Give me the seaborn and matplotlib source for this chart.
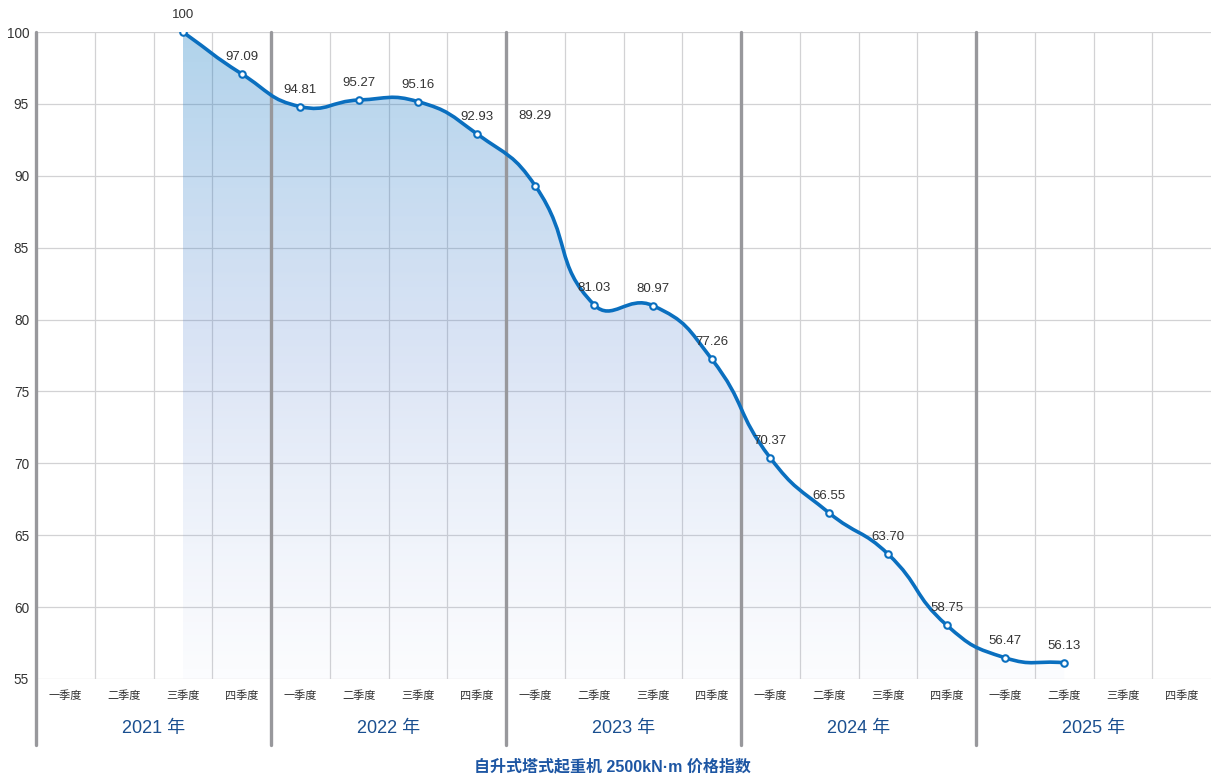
import numpy as np
import pandas as pd
import matplotlib
matplotlib.use("Agg")
import matplotlib.pyplot as plt
import seaborn as sns
from matplotlib.path import Path
from matplotlib.patches import PathPatch
from matplotlib.colors import LinearSegmentedColormap
from matplotlib.transforms import blended_transform_factory

# data
years = ['2021 年', '2022 年', '2023 年', '2024 年', '2025 年']
quarters = ['一季度', '二季度', '三季度', '四季度']
first_idx = 2  # series starts at 2021 Q3
values = [100, 97.09, 94.81, 95.27, 95.16, 92.93, 89.29, 81.03,
          80.97, 77.26, 70.37, 66.55, 63.70, 58.75, 56.47, 56.13]
labels = ['100', '97.09', '94.81', '95.27', '95.16', '92.93', '89.29', '81.03',
          '80.97', '77.26', '70.37', '66.55', '63.70', '58.75', '56.47', '56.13']
title = '自升式塔式起重机 2500kN·m 价格指数'

sns.set_style("white")
plt.rcParams['font.family'] = ['Liberation Sans', 'Noto Sans CJK SC', 'DejaVu Sans']

n_cat = len(years) * len(quarters)
xs = np.arange(first_idx, first_idx + len(values))
df = pd.DataFrame({'x': xs, 'y': values})

fig = plt.figure(figsize=(12.11, 7.75), dpi=100)
ax = fig.add_axes([36 / 1211, 1 - 679 / 775, 1 - 36 / 1211, (679 - 32) / 775])
ax.set_xlim(-0.5, n_cat - 0.5)
ax.set_ylim(55, 100)
for s in ax.spines.values():
    s.set_visible(False)

line_c = '#0a6fbf'
grid_c = '#d2d2d4'
sep_c = '#98989c'

# grid
for v in np.arange(55, 101, 5):
    ax.axhline(v, color=grid_c, lw=0.9, zorder=0)
for b in np.arange(-0.5, n_cat, 1):
    if (b + 0.5) % 4 == 0:
        continue
    ax.axvline(b, color=grid_c, lw=0.9, zorder=0)

# smooth bezier (echarts-like)
sx, sy = 58.75, 647 / 45
px = xs * sx
py = np.array(values) * sy
smooth = 0.5
n = len(px)
verts = [(xs[0], values[0])]
codes = [Path.MOVETO]
cps = []
for i in range(n):
    pxp, pyp = (px[i - 1], py[i - 1]) if i > 0 else (px[i], py[i])
    pxn, pyn = (px[i + 1], py[i + 1]) if i < n - 1 else (px[i], py[i])
    vx, vy = pxn - pxp, pyn - pyp
    d0 = np.hypot(px[i] - pxp, py[i] - pyp)
    d1 = np.hypot(pxn - px[i], pyn - py[i])
    r = d1 / (d0 + d1) if d0 + d1 > 0 else 0.5
    c_in = (px[i] - vx * smooth * (1 - r), py[i] - vy * smooth * (1 - r))
    c_out = (px[i] + vx * smooth * r, py[i] + vy * smooth * r)
    cps.append((c_in, c_out))
for i in range(n - 1):
    a = cps[i][1]
    b = cps[i + 1][0]
    verts += [(a[0] / sx, a[1] / sy), (b[0] / sx, b[1] / sy), (xs[i + 1], values[i + 1])]
    codes += [Path.CURVE4] * 3

curve = Path(verts, codes)
fill_verts = verts + [(xs[-1], 55), (xs[0], 55), (xs[0], values[0])]
fill_codes = codes + [Path.LINETO, Path.LINETO, Path.CLOSEPOLY]
fill_path = Path(fill_verts, fill_codes)

# gradient fill
cmap = LinearSegmentedColormap.from_list('g', [
    (0.0, (0.0, 0.44, 0.75, 0.31)),
    (0.5, (0.35, 0.52, 0.82, 0.22)),
    (1.0, (0.55, 0.65, 0.88, 0.03)),
])
grad = np.linspace(0, 1, 256).reshape(-1, 1)
im = ax.imshow(grad, cmap=cmap, aspect='auto', extent=[xs[0], xs[-1], 55, 100],
               origin='upper', zorder=1, interpolation='bicubic')
clip = PathPatch(fill_path, facecolor='none', edgecolor='none', transform=ax.transData)
ax.add_patch(clip)
im.set_clip_path(clip)
ax.set_xlim(-0.5, n_cat - 0.5)
ax.set_ylim(55, 100)

ax.add_patch(PathPatch(curve, facecolor='none', edgecolor=line_c, lw=2.6,
                       zorder=3, capstyle='round', joinstyle='round'))

sns.scatterplot(data=df, x='x', y='y', ax=ax, s=22, color='white',
                edgecolor=line_c, linewidth=1.5, zorder=4, legend=False)

# value labels
for x, y, t in zip(xs, values, labels):
    off = 70 if t == '89.29' else 17
    ax.annotate(t, (x, y), xytext=(0, off), textcoords='offset pixels',
                ha='center', va='center', fontsize=9.5, color='#333333', zorder=5)

# year separators
for k in range(len(years)):
    ax.axvline(-0.5 + 4 * k, ymin=-0.102, ymax=1, color=sep_c, lw=2.4,
               clip_on=False, zorder=2)

# axes ticks
ax.set_yticks(np.arange(55, 101, 5))
ax.set_yticklabels([str(v) for v in range(55, 101, 5)], fontsize=9.8, color='#333333')
ax.set_xticks(np.arange(n_cat))
ax.set_xticklabels(quarters * len(years), fontsize=8, color='#333333')
ax.tick_params(axis='both', length=0)
ax.tick_params(axis='y', pad=5)
ax.tick_params(axis='x', pad=8)
ax.set_xlabel('')
ax.set_ylabel('')

tr = blended_transform_factory(ax.transData, fig.transFigure)
for k, yl in enumerate(years):
    ax.text(1.5 + 4 * k, 1 - 728 / 775, yl, transform=tr, ha='center', va='center',
            fontsize=13, color='#1a4f90')

fig.text(612 / 1211, 1 - 767 / 775, title, ha='center', va='center',
         fontsize=11.5, fontweight='bold', color='#1d56a3')

fig.savefig('out.png', dpi=100)
